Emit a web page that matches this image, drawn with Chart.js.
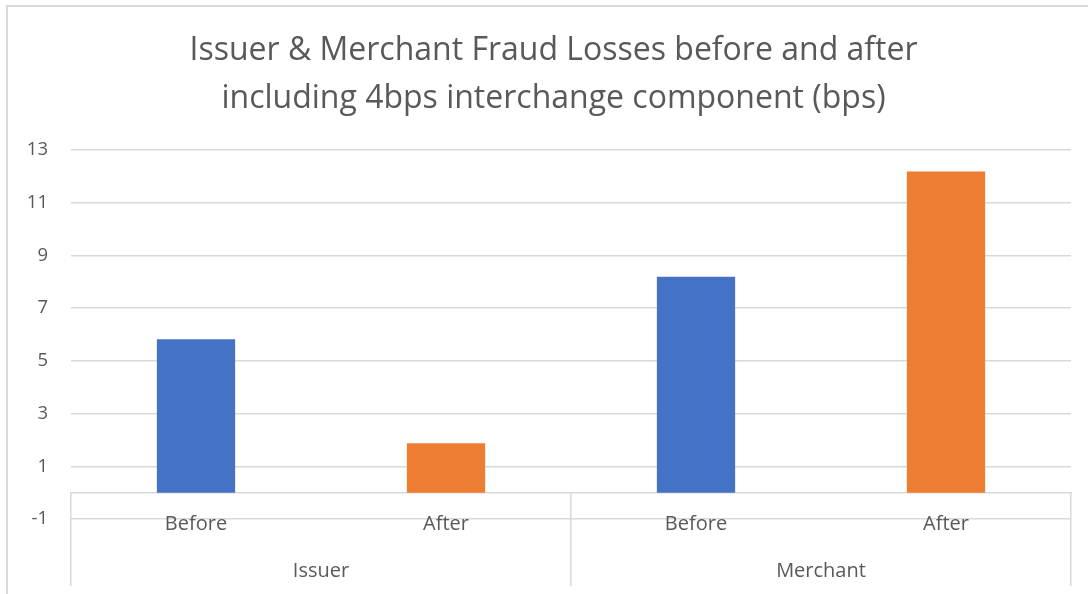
<!DOCTYPE html>
<html>
<head>
<meta charset="utf-8">
<script src="https://cdn.jsdelivr.net/npm/chart.js@4/dist/chart.umd.min.js"></script>
<style>
    html, body { margin: 0; padding: 0; background: #fff; }
    #wrap { position: relative; width: 1088px; height: 594px; overflow: hidden; }
    #frame {
        position: absolute; left: 6px; top: 5px; width: 1200px; height: 700px;
        border-left: 2px solid #d9d9d9; border-top: 2px solid #d9d9d9;
        pointer-events: none;
    }
</style>
</head>
<body>
<div id="wrap">
    <canvas id="fraud-chart" width="1088" height="594"></canvas>
    <div id="frame"></div>
</div>
<script>
// Issuer / Merchant fraud losses, bps

const CATEGORIES = ['Before', 'After', 'Before', 'After'];
const GROUPS = ['Issuer', 'Merchant'];
const LOSSES = [5.82, 1.87, 8.19, 12.18];
const Y_TICKS = [-1, 1, 3, 5, 7, 9, 11, 13];

const COLORS = {
    blue: '#4472c4',
    orange: '#ed7d31',
    grid: '#d9d9d9',
    text: '#595959'
};

const FONT = "'Open Sans', 'Noto Sans', sans-serif";

// the original title sits a little right of the canvas centre
const titleShift = {
    id: 'titleShift',
    afterLayout(chart) {
        const t = chart.titleBlock;
        if (!t) return;
        t.left += 18;
        t.right += 18;
    }
};

const ctx = document.getElementById('fraud-chart').getContext('2d');

new Chart(ctx, {
    type: 'bar',
    data: {
        labels: CATEGORIES,
        datasets: [{
            label: 'Fraud losses (bps)',
            data: LOSSES,
            backgroundColor: [COLORS.blue, COLORS.orange, COLORS.blue, COLORS.orange],
            borderWidth: 0,
            categoryPercentage: 1,
            barPercentage: 0.313,
            xAxisID: 'x',
            yAxisID: 'y'
        }]
    },
    options: {
        responsive: false,
        animation: false,
        layout: { padding: { left: 0, right: 17, top: 0, bottom: 75 } },
        plugins: {
            legend: { display: false },
            tooltip: { enabled: false },
            title: {
                display: true,
                text: ['Issuer & Merchant Fraud Losses before and after',
                       'including 4bps interchange component (bps)'],
                color: COLORS.text,
                font: { family: FONT, size: 32, weight: '400', lineHeight: 1.5 },
                padding: { top: 27, bottom: 27 }
            }
        },
        scales: {
            y: {
                min: Y_TICKS[0],
                max: Y_TICKS[Y_TICKS.length - 1],
                afterBuildTicks: (scale) => { scale.ticks = Y_TICKS.map(v => ({ value: v })); },
                afterFit: (scale) => { scale.width = 71; },
                grid: { color: COLORS.grid, lineWidth: 1.5, drawTicks: false },
                border: { display: false },
                ticks: { color: COLORS.text, font: { family: FONT, size: 18.5 }, padding: 23 }
            },
            x: {
                position: { y: 0 },
                grid: { display: false, drawTicks: false },
                border: { display: true, color: COLORS.grid, width: 1.5 },
                ticks: { color: COLORS.text, font: { family: FONT, size: 20 }, padding: 20 }
            },
            x2: {
                type: 'category',
                labels: GROUPS,
                position: { y: 0 },
                offset: true,
                grid: {
                    offset: true,
                    drawOnChartArea: false,
                    drawTicks: true,
                    tickLength: 93,
                    color: COLORS.grid,
                    lineWidth: 1.5
                },
                border: { display: false },
                ticks: { color: COLORS.text, font: { family: FONT, size: 20 }, padding: -26 }
            }
        }
    },
    plugins: [titleShift]
});
</script>
</body>
</html>
